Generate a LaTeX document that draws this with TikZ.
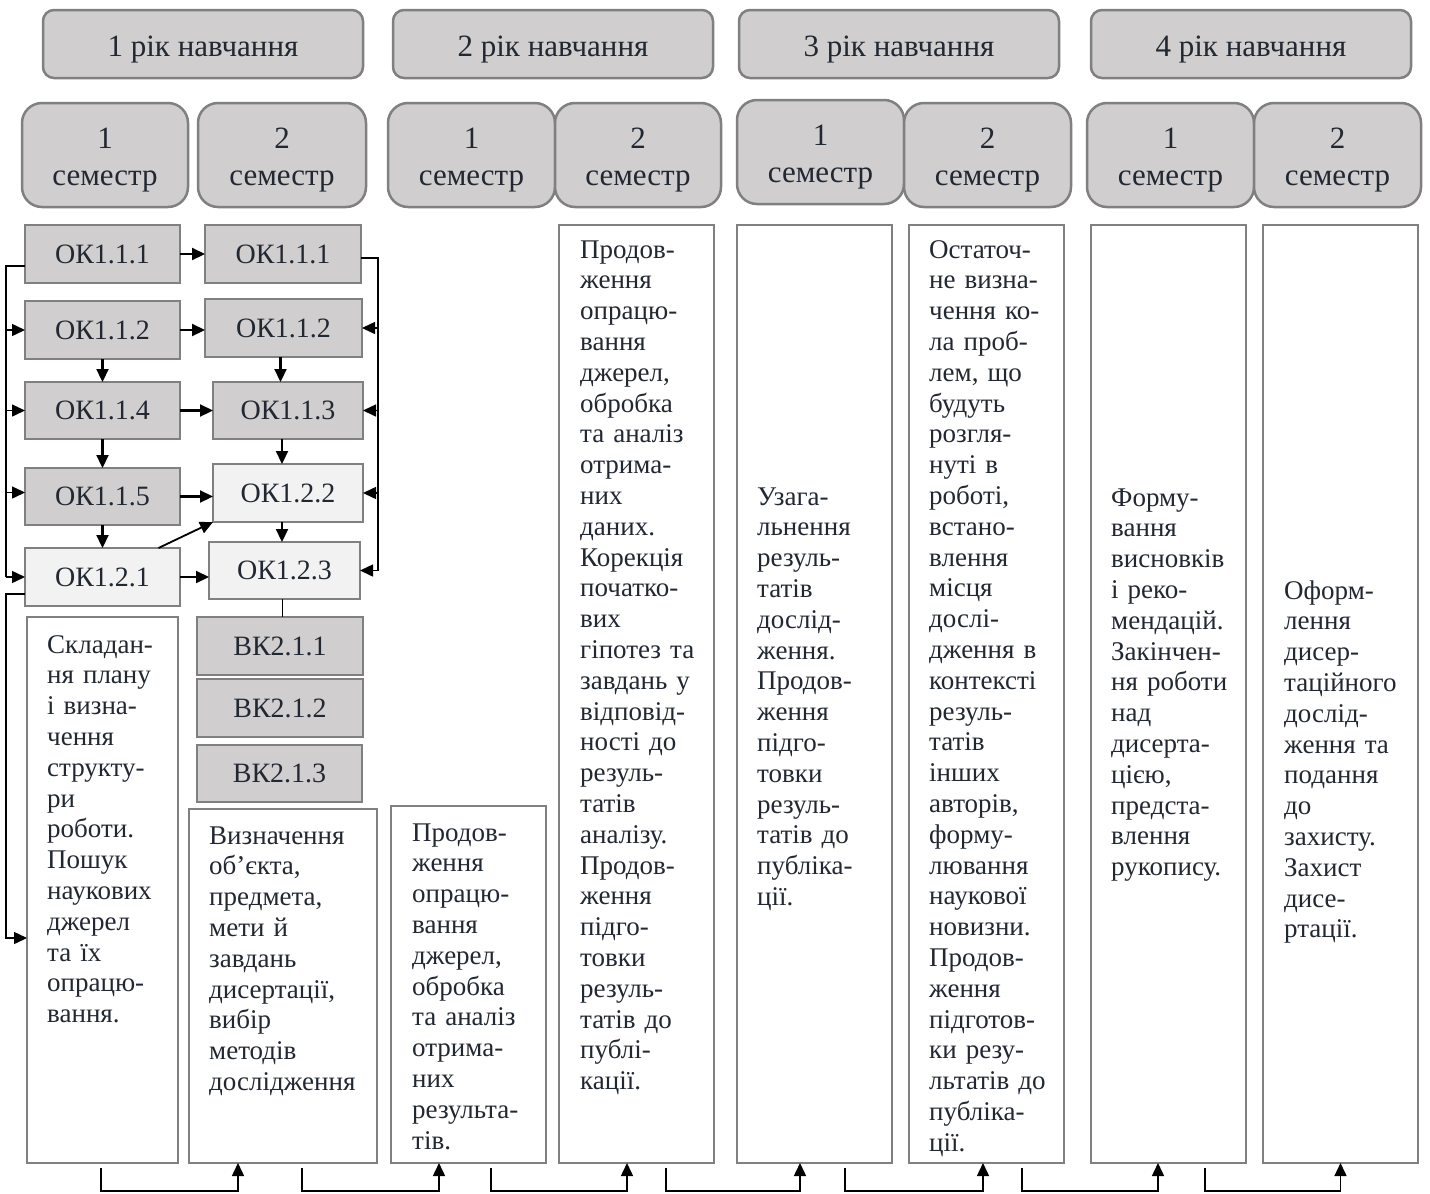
\documentclass[tikz,border=0pt]{standalone}
\usepackage{fontspec}
\setmainfont{Liberation Serif}
\usepackage{tikz}
\usetikzlibrary{arrows.meta}
\definecolor{cellgray}{RGB}{208,206,206}
\definecolor{celllight}{RGB}{242,242,242}
\definecolor{edgegray}{RGB}{128,128,128}
\definecolor{inktext}{RGB}{34,40,50}

\begin{document}
\begin{tikzpicture}[x=1pt, y=-1pt,
        yearbox/.style={draw=edgegray, line width=2.5pt, fill=cellgray, rounded corners=11pt, anchor=north west, outer sep=0pt, minimum width=320pt, minimum height=68pt, inner sep=0pt, text height=31pt, text depth=7pt, text=inktext, font=\fontsize{31}{36}\selectfont},
        termbox/.style={draw=edgegray, line width=2.5pt, fill=cellgray, rounded corners=20pt, anchor=north west, outer sep=0pt, minimum width=167pt, minimum height=104pt, inner sep=0pt, align=center, text=inktext, font=\fontsize{31}{37}\selectfont},
        okbox/.style={draw=edgegray, line width=2.5pt, fill=cellgray, anchor=north west, outer sep=0pt, minimum height=58pt, inner sep=0pt, text=inktext, font=\fontsize{28}{32}\selectfont},
        colbox/.style={draw=edgegray, line width=2pt, fill=white, anchor=north west, outer sep=0pt, minimum width=155pt, minimum height=938pt},
        coltext/.style={anchor=base west, inner sep=0pt, align=left, text width=145pt, text=inktext, font=\fontsize{27}{30.8}\selectfont},
        bus/.style={line width=1.3pt},
        arr/.style={line width=2.2pt, -{Triangle[length=13pt, width=12pt]}},
        arrthin/.style={line width=1.5pt, -{Triangle[length=13pt, width=12pt]}}]
    \useasboundingbox (0,0) rectangle (1430,1194);

        % years
        \node[yearbox] (1) at (43,10) {1 рік навчання};
        \node[yearbox] (2) at (393,10) {2 рік навчання};
        \node[yearbox] (3) at (739,10) {3 рік навчання};
        \node[yearbox] (4) at (1091,10) {4 рік навчання};

        % semesters
        \node[termbox, minimum width=166pt] (5) at (22,103) {\rule{0pt}{31pt}1\\семестр};
        \node[termbox, minimum width=168pt] (6) at (198,103) {\rule{0pt}{31pt}2\\семестр};
        \node[termbox] (7) at (388,103) {\rule{0pt}{31pt}1\\семестр};
        \node[termbox, minimum width=166pt] (8) at (555,103) {\rule{0pt}{31pt}2\\семестр};
        \node[termbox] (9) at (737,100) {\rule{0pt}{31pt}1\\семестр};
        \node[termbox] (10) at (904,103) {\rule{0pt}{31pt}2\\семестр};
        \node[termbox] (11) at (1087,103) {\rule{0pt}{31pt}1\\семестр};
        \node[termbox] (12) at (1254,103) {\rule{0pt}{31pt}2\\семестр};

        % first year courses
        \node[okbox, minimum width=155pt] (13) at (25,225) {ОК1.1.1};
        \node[okbox, minimum width=155pt] (14) at (25,301) {ОК1.1.2};
        \node[okbox, minimum width=155pt, minimum height=57pt] (15) at (25,382) {ОК1.1.4};
        \node[okbox, minimum width=155pt, minimum height=57pt] (16) at (25,468) {ОК1.1.5};
        \node[okbox, minimum width=155pt, fill=celllight] (17) at (25,548) {ОК1.2.1};

        \node[okbox, minimum width=156pt] (18) at (205,225) {ОК1.1.1};
        \node[okbox, minimum width=157pt] (19) at (205,299) {ОК1.1.2};
        \node[okbox, minimum width=150pt, minimum height=57pt] (20) at (213,382) {ОК1.1.3};
        \node[okbox, minimum width=150pt, fill=celllight] (21) at (213,464) {ОК1.2.2};
        \node[okbox, minimum width=151pt, minimum height=57pt, fill=celllight] (22) at (209,542) {ОК1.2.3};

        \node[okbox, minimum width=166pt] (23) at (197,617) {ВК2.1.1};
        \node[okbox, minimum width=166pt] (24) at (197,679) {ВК2.1.2};
        \node[okbox, minimum width=165pt, minimum height=57pt] (25) at (197,745) {ВК2.1.3};

        % columns
        \node[colbox, minimum width=151pt, minimum height=546pt] (26) at (27,617) {};
        \node[colbox, minimum width=188pt, minimum height=354pt] (27) at (189,809) {};
        \node[colbox, minimum height=357pt] (28) at (391,806) {};
        \node[colbox] (29) at (559,225) {};
        \node[colbox] (30) at (737,225) {};
        \node[colbox] (31) at (909,225) {};
        \node[colbox] (32) at (1091,225) {};
        \node[colbox] (33) at (1263,225) {};

        \node[coltext] (34) at (47,653) {Складан-\\ня плану\\і визна-\\чення\\структу-\\ри\\роботи.\\Пошук\\наукових\\джерел\\та їх\\опрацю-\\вання.};
        \node[coltext, text width=165pt] (35) at (209,844) {Визначення\\об’єкта,\\предмета,\\мети й\\завдань\\дисертації,\\вибір\\методів\\дослідження};
        \node[coltext] (36) at (412,841) {Продов-\\ження\\опрацю-\\вання\\джерел,\\обробка\\та аналіз\\отрима-\\них\\результа-\\тів.};
        \node[coltext] (37) at (580,258) {Продов-\\ження\\опрацю-\\вання\\джерел,\\обробка\\та аналіз\\отрима-\\них\\даних.\\Корекція\\початко-\\вих\\гіпотез та\\завдань у\\відповід-\\ності до\\резуль-\\татів\\аналізу.\\Продов-\\ження\\підго-\\товки\\резуль-\\татів до\\публі-\\кації.};
        \node[coltext] (38) at (757,505) {Узага-\\льнення\\резуль-\\татів\\дослід-\\ження.\\Продов-\\ження\\підго-\\товки\\резуль-\\татів до\\публіка-\\ції.};
        \node[coltext] (39) at (929,258) {Остаточ-\\не визна-\\чення ко-\\ла проб-\\лем, що\\будуть\\розгля-\\нуті в\\роботі,\\встано-\\влення\\місця\\дослі-\\дження в\\контексті\\резуль-\\татів\\інших\\авторів,\\форму-\\лювання\\наукової\\новизни.\\Продов-\\ження\\підготов-\\ки резу-\\льтатів до\\публіка-\\ції.};
        \node[coltext] (40) at (1111,506) {Форму-\\вання\\висновків\\і реко-\\мендацій.\\Закінчен-\\ня роботи\\над\\дисерта-\\цією,\\предста-\\влення\\рукопису.};
        \node[coltext] (41) at (1284,599) {Оформ-\\лення\\дисер-\\таційного\\дослід-\\ження та\\подання\\до\\захисту.\\Захист\\дисе-\\ртації.};

        \coordinate (42) at (6,577);
        \coordinate (43) at (378,570.5);
        \coordinate (44) at (6,938);

        % course links
        \draw[arr] (13.east) -- (13.east -| 18.west);
        \draw[arr] (14.east) -- (14.east -| 19.west);
        \draw[arr] (15.east) -- (15.east -| 20.west);
        \draw[arr] (16.east) -- (16.east -| 21.west);
        \draw[arr] (17.east) -- (17.east -| 22.west);
        \draw[arr] (14.south) -- (15.north);
        \draw[arr] (15.south) -- (16.north);
        \draw[arr] (16.south) -- (17.north);
        \draw[arr] ([xshift=-3pt]19.south) -- ([xshift=-3pt]19.south |- 20.north);
        \draw[arr] ([xshift=-6pt]20.south) -- ([xshift=-6pt]20.south |- 21.north);
        \draw[arr] ([xshift=-6pt]21.south) -- ([xshift=-6pt]21.south |- 22.north);
        \draw[line width=1.8pt, -{Triangle[length=13pt, width=12pt]}] ([xshift=56pt]17.north) -- (21.south west);
        \draw[bus] ([xshift=-2pt]22.south) -- ([xshift=-2pt]22.south |- 23.north);

        % left and right buses
        \draw[bus] ([yshift=-12pt]13.west) -| (42);
        \draw[arrthin] (14.west -| 42) -- (14.west);
        \draw[arrthin] (15.west -| 42) -- (15.west);
        \draw[arrthin] ([yshift=4pt]16.west -| 42) -- ([yshift=4pt]16.west);
        \draw[arrthin] (42) -- (17.west);
        \draw[bus] ([yshift=-4pt]18.east) -| (43);
        \draw[arrthin] (19.east -| 43) -- (19.east);
        \draw[arrthin] (20.east -| 43) -- (20.east);
        \draw[arrthin] (21.east -| 43) -- (21.east);
        \draw[arrthin] (43) -- (22.east);
        \draw[arrthin] ([yshift=-17pt]17.west) -| (44) -- (44 -| 26.west);

        % steps along the bottom
        \draw[arrthin] ([xshift=-1.5pt, yshift=-5pt]26.south) -- ++(0,23) -| ([xshift=-45pt]27.south);
        \draw[arrthin] ([xshift=19pt, yshift=-5pt]27.south) -- ++(0,23) -| ([xshift=-29.5pt]28.south);
        \draw[arrthin] ([xshift=22.5pt, yshift=-5pt]28.south) -- ++(0,23) -| ([xshift=-9.5pt]29.south);
        \draw[arrthin] ([xshift=29.5pt, yshift=-5pt]29.south) -- ++(0,23) -| ([xshift=-14.5pt]30.south);
        \draw[arrthin] ([xshift=30.5pt, yshift=-5pt]30.south) -- ++(0,23) -| ([xshift=-3.5pt]31.south);
        \draw[arrthin] ([xshift=35.5pt, yshift=-5pt]31.south) -- ++(0,23) -| ([xshift=-10.5pt]32.south);
        \draw[arrthin] ([xshift=36.5pt, yshift=-5pt]32.south) -- ++(0,23) -| (33.south);

    \end{tikzpicture}
\end{document}
